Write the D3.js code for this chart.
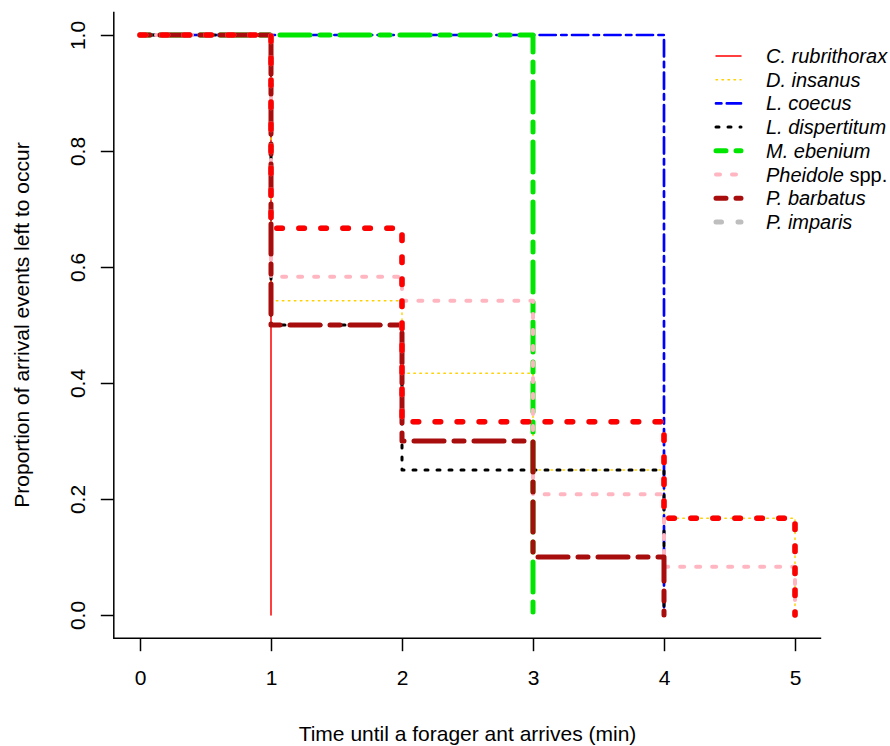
<!DOCTYPE html>
<html>
<head>
<meta charset="utf-8">
<script src="https://cdn.jsdelivr.net/npm/d3@7"></script>
<style>
  body { margin: 0; background: #fff; }
  svg text { font-family: "Liberation Sans", Arial, sans-serif; fill: #000; }
</style>
</head>
<body>
<div class="chart"></div>
<script>
// time steps (min) and the survival proportions at each step
const times = [0, 1, 2, 3, 4, 5];
const xTicks = [0, 1, 2, 3, 4, 5];
const yTicks = [0, 0.2, 0.4, 0.6, 0.8, 1.0];

const species = ["C. rubrithorax", "D. insanus", "L. coecus", "L. dispertitum",
                 "M. ebenium", "Pheidole", "P. barbatus", "P. imparis"];

const cRubrithorax = [1, 0];
const dInsanus     = [1, 0.542, 0.417, 0.25, 0.167, 0];
const lCoecus      = [1, 1, 1, 1, 0];
const lDispertitum = [1, 0.5, 0.25, 0.25, 0];
const mEbenium     = [1, 1, 1, 0];
const pheidole     = [1, 0.583, 0.542, 0.208, 0.083, 0];
const pBarbatus    = [1, 0.5, 0.3, 0.1, 0];
const pImparis     = [1, 0.667, 0.333, 0.333, 0.167, 0];
// thick red curve drawn in the figure without its own legend key
const redCurve     = [1, 0.667, 0.333, 0.333, 0.167, 0];

// R-like line types (units of line width), drawn with round ends
const lty = {solid: null, dotted: [1, 3], twodash: [2, 2, 6, 2]};

const styles = [
  {color: "red",     lwd: 1.5, lty: "solid"},
  {color: "#FFD200", lwd: 1.5, lty: "dotted"},
  {color: "blue",    lwd: 2.7, lty: "twodash"},
  {color: "black",   lwd: 3,   lty: "dotted"},
  {color: "#00E600", lwd: 5,   lty: "twodash"},
  {color: "#FFB6C1", lwd: 4,   lty: "dotted"},
  {color: "#A80D0D", lwd: 5,   lty: "twodash"},
  {color: "#BEBEBE", lwd: 5.5, lty: "dotted"},
  {color: "red",     lwd: 5.5, lty: "dotted"}
];

const curves = [cRubrithorax, dInsanus, lCoecus, lDispertitum, mEbenium,
                pheidole, pBarbatus, pImparis, redCurve];

const dash = s => lty[s.lty] ? lty[s.lty].map(d => d * s.lwd).join(",") : null;

const width = 890, height = 746;

const x = d3.scaleLinear().domain([0, 5]).range([140, 795]);
const y = d3.scaleLinear().domain([0, 1]).range([615, 35]);

// plot region extends 4% past the data range, like R
const x0 = x(-0.2), x1 = x(5.2), yTop = y(1.04), yBot = y(-0.04);

const svg = d3.select(".chart").append("svg")
    .attr("width", width)
    .attr("height", height);

// step curves
const line = d3.line()
    .x((d, i) => x(times[i]))
    .y(d => y(d))
    .curve(d3.curveStepAfter);

svg.append("g").selectAll("path")
    .data(curves)
  .enter().append("path")
    .attr("d", d => line(d))
    .attr("fill", "none")
    .attr("stroke", (d, i) => styles[i].color)
    .attr("stroke-width", (d, i) => styles[i].lwd)
    .attr("stroke-dasharray", (d, i) => dash(styles[i]))
    .attr("stroke-linecap", "round")
    .attr("stroke-linejoin", "round");

// L-shaped box
svg.append("path")
    .attr("d", "M" + x0 + "," + yTop + "V" + yBot + "H" + x1)
    .attr("fill", "none")
    .attr("stroke", "#000")
    .attr("stroke-width", 1.5);

// x axis
const xAxis = svg.append("g")
    .attr("transform", "translate(0," + yBot + ")")
    .call(d3.axisBottom(x).tickValues(xTicks).tickSize(13).tickPadding(19).tickFormat(d3.format("d")));
xAxis.select(".domain").remove();
xAxis.selectAll("line").attr("stroke-width", 1.5);
xAxis.selectAll("text").style("font-size", "21px");

// y axis, labels turned like R's las = 0
const yAxis = svg.append("g")
    .attr("transform", "translate(" + x0 + ",0)")
    .call(d3.axisLeft(y).tickValues(yTicks).tickSize(13).tickFormat(d3.format(".1f")));
yAxis.select(".domain").remove();
yAxis.selectAll("line").attr("stroke-width", 1.5);
yAxis.selectAll("text")
    .attr("x", null)
    .attr("dy", null)
    .attr("text-anchor", "middle")
    .attr("transform", "translate(-29,0) rotate(-90)")
    .style("font-size", "21px");

// axis titles
svg.append("text")
    .attr("x", (x0 + x1) / 2)
    .attr("y", 741)
    .attr("text-anchor", "middle")
    .style("font-size", "21px")
    .text("Time until a forager ant arrives (min)");

svg.append("text")
    .attr("transform", "translate(29," + (yTop + yBot) / 2 + ") rotate(-90)")
    .attr("text-anchor", "middle")
    .style("font-size", "21px")
    .text("Proportion of arrival events left to occur");

// legend
const legend = svg.append("g").selectAll("g")
    .data(species)
  .enter().append("g")
    .attr("transform", (d, i) => "translate(0," + (56 + i * 23.7) + ")");

legend.append("path")
    .attr("d", "M716,0H741")
    .attr("stroke", (d, i) => styles[i].color)
    .attr("stroke-width", (d, i) => Math.min(styles[i].lwd, 5))
    .attr("stroke-dasharray", (d, i) => dash(styles[i]))
    .attr("stroke-linecap", "round");

const label = legend.append("text")
    .attr("x", 766)
    .attr("dy", "0.35em")
    .style("font-size", "20px");
label.append("tspan")
    .style("font-style", "italic")
    .text(d => d);
label.filter(d => d === "Pheidole").append("tspan")
    .text(" spp.");
</script>
</body>
</html>
